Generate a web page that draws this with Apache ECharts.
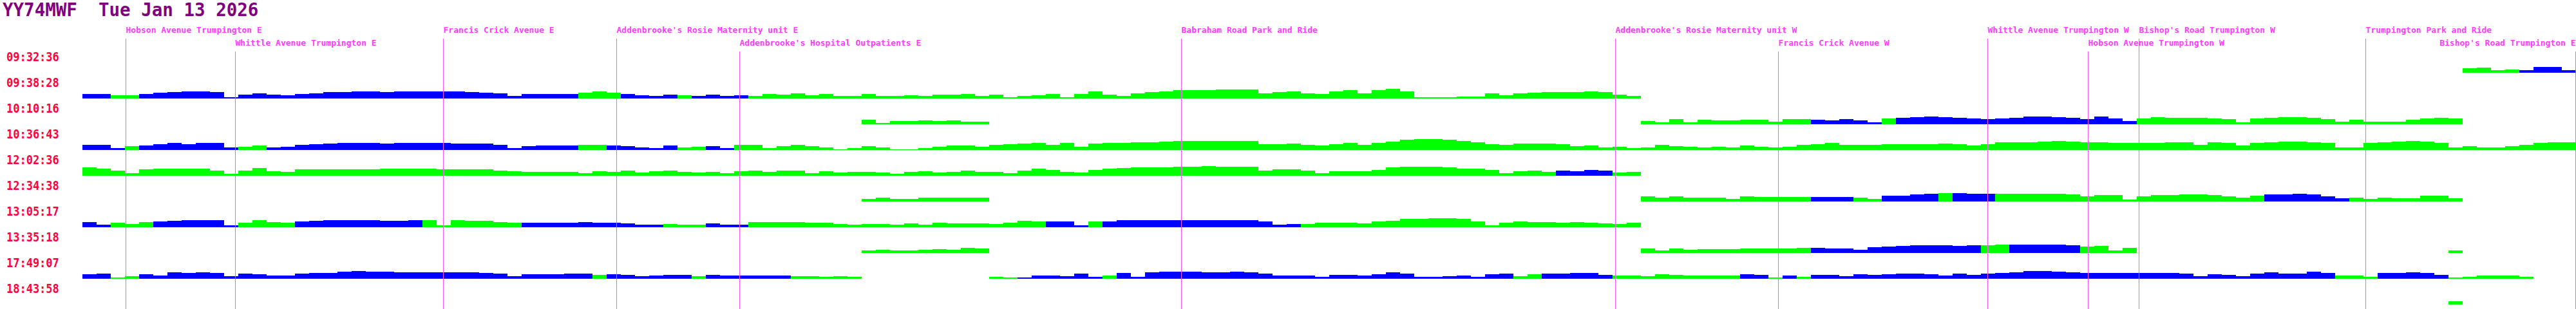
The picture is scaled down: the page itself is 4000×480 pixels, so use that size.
<!DOCTYPE html>
<html><head><meta charset="utf-8">
<script src="https://cdn.jsdelivr.net/npm/echarts@6/dist/echarts.min.js"></script>
<style>html,body{margin:0;padding:0;background:#fff}#c{width:4000px;height:480px}</style>
</head><body><div id="c"></div>
<script>
// ---------- data ----------
const titleText = 'YY74MWF  Tue Jan 13 2026';
const tripTimes = ['09:32:36','09:38:28','10:10:16','10:36:43','12:02:36','12:34:38','13:05:17','13:35:18','17:49:07','18:43:58'];
const binCount = 176;          // route split into bins
const binSize = 22;            // distance units per bin
const routeLength = binCount * binSize;

const stopNames = ['Hobson Avenue Trumpington E','Whittle Avenue Trumpington E','Francis Crick Avenue E',
  "Addenbrooke's Rosie Maternity unit E","Addenbrooke's Hospital Outpatients E",'Babraham Road Park and Ride',
  "Addenbrooke's Rosie Maternity unit W",'Francis Crick Avenue W','Whittle Avenue Trumpington W',
  'Hobson Avenue Trumpington W',"Bishop's Road Trumpington W",'Trumpington Park and Ride',"Bishop's Road Trumpington E"];
const stopDist = [67.5,237.5,560.5,829.5,1020.5,1706.5,2380.5,2633.5,2958.5,3114.5,3193.5,3545.5,3871.5];
const stopTier = [0,1,0,0,1,0,0,1,0,1,0,0,1];

// per-trip start bin, heights per bin (null = no data), colour runs (B = blue, G = green, - = none)
const start1 = 168;
const heights1 = [7,8,4,5,4,9,9,4];
const runs1 = [['G',4],['B',4]];

const start2 = 0;
const heights2 = [7,7,5,5,7,9,10,11,11,10, 2,6,8,6,5,7,8,10,10,11, 11,10,11,11,11,11,11,10,9,8, 4,7,7,7,7,9,11,9,7,5, 4,6,5,4,
  6,4,5,4,7,6,8,5,7,4, 4,7,4,4,5,4,6,6,7,4, 6,2,4,5,7,2,7,11,6,4, 8,10,11,13,13,13,14,14,14,8, 10,11,8,7,11,13,
  8,13,15,11,2,2,2,3,3,8, 5,8,9,10,10,10,11,10,6,4];
const runs2 = [['B',2],['G',2],['B',31],['G',3],['B',4],['G',1],['B',4],['G',63]];

const start3 = 55;
const heights3 = [7,2,5,5,6,5,6,4,4,
  null,null,null,null,null,null,null,null,null,null,null,null,null,null,null,null,null,null,null,null,null,null,null,
  null,null,null,null,null,null,null,null,null,null,null,null,null,null,null,
  3,7,6,6,6,4,7,6,5,3, 8,3,7,6,6,7,7,4,8,8, 7,6,8,6,3,
  9,10,11,12,11,10,9,8,9,10, 12,12,11,10,8,12,9,5,9,11, 10,10,10,9,8,3,9,10,11,11, 10,8,4,7,4,4,4,7,9,10, 9];
const runs3 = [['G',9],['-',46],['G',12],['B',5],['G',1],['B',17],['G',27],['B',4]];

const start4 = 0;
const heights4 = [8,8,3,6,7,9,11,9,11,11, 4,5,7,4,5,8,9,10,11,11, 11,10,11,11,11,11,10,10,10,8, 3,6,7,7,7,8,8,7,6,4, 3,7,4,5,
  6,3,8,8,3,6,8,6,4,1, 3,6,4,1,1,3,5,7,7,5, 8,9,10,11,8,11,5,10,11,11, 12,12,13,14,14,14,14,14,14,9, 9,10,8,7,9,11,
  8,11,13,16,17,17,16,14,12,9, 8,10,10,10,9,6,7,4,5,3, 4,8,6,5,4,5,4,7,5,4, 5,8,9,11,8,8,8,9,9,9, 9,10,9,7,9,
  12,12,12,13,14,13,12,12,11,11, 11,11,12,12,8,12,11,7,11,12, 13,13,12,11,4,4,11,12,13,14, 13,11,4,6,4,4,6,8,11,12, 12];
const runs4 = [['B',3],['G',1],['B',7],['G',2],['B',22],['G',2],['B',5],['G',2],['B',2],['G',130]];

const start5 = 0;
const heights5 = [13,11,8,4,10,11,11,11,11,8, 3,8,12,7,6,10,10,10,10,10, 10,11,11,11,11,10,10,10,10,8, 7,6,6,6,6,4,7,6,8,5, 7,8,6,5,
  6,4,7,8,6,8,8,4,7,5, 6,6,5,3,6,7,5,6,8,6, 6,4,8,11,9,6,5,9,11,12, 13,13,13,14,14,15,14,14,14,8, 10,10,8,4,7,7,
  7,9,13,14,14,14,13,11,11,9, 4,7,8,6,8,7,9,8,5,6];
const runs5 = [['G',104],['B',4],['G',2]];

const start6 = 55;
const heights6 = [4,6,4,4,6,6,6,6,6,
  null,null,null,null,null,null,null,null,null,null,null,null,null,null,null,null,null,null,null,null,null,null,null,
  null,null,null,null,null,null,null,null,null,null,null,null,null,null,null,
  4,7,6,7,6,4,8,8,8,6, 8,6,6,6,4,8,7,7,7,7, 7,7,7,6,4,
  9,9,11,12,13,13,12,12,12,12, 12,12,12,11,8,10,10,3,8,10, 10,11,11,10,8,6,9,11,11,12, 11,8,5,6,4,6,5,5,9,9, 5];
const runs6 = [['G',9],['-',46],['G',12],['B',3],['G',2],['B',4],['G',1],['B',3],['G',19],['B',6],['G',13],['B',3]];

const start7 = 0;
const heights7 = [8,4,7,5,8,9,10,11,11,11, 3,7,11,8,7,9,10,11,11,11, 11,10,10,11,11,3,11,10,10,8, 7,7,7,7,7,8,7,7,6,4, 4,5,4,4,
  6,4,4,8,8,8,8,7,7,5, 4,5,5,4,6,4,7,6,6,6, 5,7,10,9,9,9,3,9,9,11, 11,11,11,11,11,11,11,11,11,9, 4,5,5,7,7,7,
  6,9,10,13,13,14,14,13,9,3, 7,9,8,8,7,8,7,6,5,7];
const runs7 = [['B',2],['G',3],['B',6],['G',4],['B',9],['G',7],['B',10],['G',3],['B',3],['G',21],['B',3],['G',1],['B',14],['G',24]];

const start8 = 55;
const heights8 = [4,5,4,4,5,6,5,8,7,
  null,null,null,null,null,null,null,null,null,null,null,null,null,null,null,null,null,null,null,null,null,null,null,
  null,null,null,null,null,null,null,null,null,null,null,null,null,null,null,
  2,5,7,6,5,4,4,6,7,4, 7,5,6,6,6,7,7,7,7,8, 8,7,7,5,9,
  10,11,12,12,12,11,12,12,13,13, 13,13,13,12,10,11,4,8,
  null,null,null,null,null,null,null,null,null,null,null,null,null,null,
  3,3,3,3,3,4,4,9,4];
const runs8 = [['G',9],['-',46],['G',12],['B',12],['G',2],['B',5],['G',12],['-',14],['G',2],['B',3],['G',1],['B',3]];

const start9 = 0;
const heights9 = [7,8,2,4,7,5,10,9,10,9, 4,8,7,5,5,8,9,9,11,12, 11,11,10,10,10,10,10,10,9,8, 4,7,7,7,8,8,6,7,6,4, 5,6,6,4,
  6,5,5,5,5,5,4,4,3,4,3,
  null,null,null,null,null,null,null,null,null,
  3,2,2,5,5,4,8,3,5,9, 3,10,11,11,11,10,10,11,10,8, 5,5,5,3,6,6,
  5,7,10,8,3,3,4,5,3,7, 8,4,7,8,8,9,9,6,5,5, 4,7,6,5,5,5,5,7,6,2, 5,3,6,6,4,7,6,7,8,8, 7,5,8,6,8,
  9,10,12,12,11,10,9,9,9,9, 9,9,9,8,4,7,6,4,8,10, 8,8,11,9,5,5,3,9,9,10, 9,6,2,3,5,5,5,3];
const runs9 = [['B',2],['G',2],['B',32],['G',1],['B',6],['G',1],['B',6],['G',5],['-',9],['G',2],['B',6],['G',1],['B',28],
  ['G',2],['B',5],['G',9],['B',2],['G',1],['B',1],['G',1],['B',37],['G',3],['B',5],['G',6]];

const start10 = 167;
const heights10 = [5];
const runs10 = [['G',1]];

// ---------- build ----------
const trips = [
  [start1,heights1,runs1],[start2,heights2,runs2],[start3,heights3,runs3],[start4,heights4,runs4],[start5,heights5,runs5],
  [start6,heights6,runs6],[start7,heights7,runs7],[start8,heights8,runs8],[start9,heights9,runs9],[start10,heights10,runs10]
];
const BLUE = '#0000ff', GREEN = '#00ff00';
const bins = Array.from({length: binCount}, (_, i) => i);

function expand(start, heights, runs) {
  const colors = [];
  runs.forEach(([c, n]) => { for (let i = 0; i < n; i++) colors.push(c); });
  const blue = new Array(binCount).fill('-');
  const green = new Array(binCount).fill('-');
  heights.forEach((h, i) => {
    if (h == null) return;
    const b = start + i;
    if (colors[i] === 'B') blue[b] = h; else if (colors[i] === 'G') green[b] = h;
  });
  return {blue, green};
}

const LEFT = 128, ROW0_BOTTOM = 113, ROW_STEP = 40, ROW_H = 17;
const grids = [], xAxes = [], yAxes = [], series = [], graphics = [];

trips.forEach((t, k) => {
  const d = expand(t[0], t[1], t[2]);
  grids.push({left: LEFT, right: 0, top: ROW0_BOTTOM + ROW_STEP * k - ROW_H, height: ROW_H, show: false});
  xAxes.push({type: 'category', gridIndex: k, data: bins, show: false, boundaryGap: true});
  yAxes.push({type: 'value', gridIndex: k, min: 0, max: ROW_H, show: false});
  [[d.blue, BLUE], [d.green, GREEN]].forEach(([arr, col]) => {
    series.push({type: 'bar', xAxisIndex: k, yAxisIndex: k, data: arr, barCategoryGap: '0%', barGap: '-100%',
      itemStyle: {color: col}, silent: true, z: 3, animation: false});
  });
  graphics.push({type: 'text', x: 10, y: 88 + ROW_STEP * k, scaleY: 1.12,
    style: {text: tripTimes[k], fill: '#ff0040', font: 'bold 17px "DejaVu Sans Mono"', verticalAlign: 'middle', align: 'left'}});
});

// overlay grid for stops
const ov = trips.length;
grids.push({left: LEFT, right: 0, top: 0, height: 480, show: false});
xAxes.push({type: 'value', gridIndex: ov, min: 0, max: routeLength, show: false});
yAxes.push({type: 'value', gridIndex: ov, min: 0, max: 480, inverse: true, show: false});
const labelY = [46, 66], lineTop = [60, 80];
series.push({
  type: 'scatter', xAxisIndex: ov, yAxisIndex: ov, symbolSize: 0, z: 1, silent: true, animation: false,
  data: stopNames.map((n, i) => {
    const last = stopDist[i] > routeLength - 150;
    return {name: n, value: [stopDist[i], labelY[stopTier[i]]],
      label: {position: last ? 'left' : 'right'}};
  }),
  label: {show: true, distance: 0, formatter: p => p.name, color: '#ff00ff',
    fontFamily: 'DejaVu Sans Mono', fontWeight: 'bold', fontSize: 13},
  markLine: {silent: true, symbol: ['none', 'none'], animation: false, label: {show: false},
    lineStyle: {color: '#ff55ff', width: 1, type: 'solid'},
    data: stopDist.map((d, i) => [{coord: [d, lineTop[stopTier[i]]]}, {coord: [d, 480]}])}
});

graphics.push({type: 'text', x: 4, y: 15,
  style: {text: titleText, fill: '#800080', font: 'bold 27.5px "DejaVu Sans Mono"', verticalAlign: 'middle', align: 'left'}});

const chart = echarts.init(document.getElementById('c'), null, {renderer: 'svg'});
chart.setOption({animation: false, backgroundColor: '#ffffff', grid: grids, xAxis: xAxes, yAxis: yAxes, series, graphic: graphics});
</script></body></html>
